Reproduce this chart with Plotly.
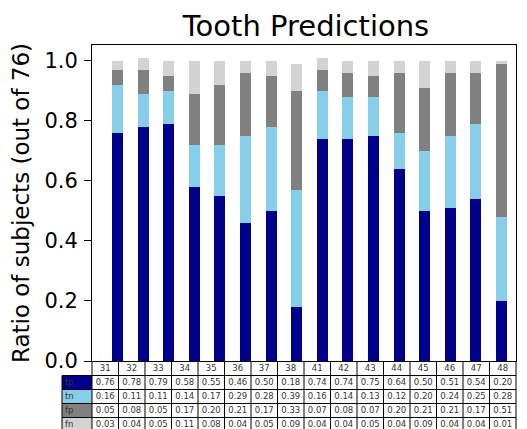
import plotly.graph_objects as go

teeth = ["31", "32", "33", "34", "35", "36", "37", "38",
         "41", "42", "43", "44", "45", "46", "47", "48"]
tp = [0.76, 0.78, 0.79, 0.58, 0.55, 0.46, 0.50, 0.18, 0.74, 0.74, 0.75, 0.64, 0.50, 0.51, 0.54, 0.20]
tn = [0.16, 0.11, 0.11, 0.14, 0.17, 0.29, 0.28, 0.39, 0.16, 0.14, 0.13, 0.12, 0.20, 0.24, 0.25, 0.28]
fp = [0.05, 0.08, 0.05, 0.17, 0.20, 0.21, 0.17, 0.33, 0.07, 0.08, 0.07, 0.20, 0.21, 0.21, 0.17, 0.51]
fn = [0.03, 0.04, 0.05, 0.11, 0.08, 0.04, 0.05, 0.09, 0.04, 0.04, 0.05, 0.04, 0.09, 0.04, 0.04, 0.01]
row_labels = ["tp", "tn", "fp", "fn"]
row_colors = ["#00008B", "#87CEEB", "#808080", "#D3D3D3"]

series = list(zip(row_labels, [tp, tn, fp, fn], row_colors))

W, H = 527, 429
ax_l, ax_r, ax_t, ax_b = 92, 516, 45, 361
colw = (ax_r - ax_l) / len(teeth)      # px per table column
labw = 30                               # px of row-label column
rowh = 14                               # px per table row
tab_top = 361.5

fig = go.Figure()
xs = list(range(len(teeth)))
for name, vals, col in series:
    fig.add_trace(go.Bar(x=xs, y=vals, name=name, marker=dict(color=col, line=dict(width=0)),
                         width=0.43, showlegend=False, hoverinfo="skip"))

# ---- table on its own axes (x in column units, y in row units) ----
ncol = len(teeth)
lab_edge = -labw / colw
x_edges = [lab_edge] + list(range(ncol + 1))
nrow = len(row_labels) + 1
y_edges = list(range(nrow + 1))
z = []
z.append([None] + [0] * ncol)
for r in range(len(row_labels)):
    z.append([r + 1] + [0] * ncol)
cs = []
cols = ["white"] + row_colors
n = len(cols)
for i, c in enumerate(cols):
    cs.append([i / n, c])
    cs.append([(i + 1) / n, c])
fig.add_trace(go.Heatmap(x=x_edges, y=y_edges, z=z, colorscale=cs, zmin=-0.5, zmax=n - 0.5,
                         showscale=False, hoverinfo="skip", xaxis="x2", yaxis="y2"))

# grid lines
gx, gy = [], []
gx += [0, ncol, None]; gy += [0, 0, None]
for r in range(1, nrow + 1):
    gx += [lab_edge, ncol, None]; gy += [r, r, None]
gx += [lab_edge, lab_edge, None]; gy += [1, nrow, None]
for c in range(ncol + 1):
    gx += [c, c, None]; gy += [0, nrow, None]
fig.add_trace(go.Scatter(x=gx, y=gy, mode="lines", line=dict(color="black", width=1),
                         showlegend=False, hoverinfo="skip", xaxis="x2", yaxis="y2"))

# texts
tfont = dict(family="DejaVu Sans", size=8.5, color="#333")
tx, ty, tt = [], [], []
for c, t in enumerate(teeth):
    tx.append(c + 0.5); ty.append(0.5); tt.append(t)
lx, ly, lt = [], [], []
for r, (name, vals, col) in enumerate(series):
    lx.append(lab_edge + 3 / colw); ly.append(r + 1.5); lt.append(name)
    for c, v in enumerate(vals):
        tx.append(c + 0.5); ty.append(r + 1.5); tt.append("%.2f" % v)
fig.add_trace(go.Scatter(x=tx, y=ty, text=tt, mode="text", textfont=tfont,
                         showlegend=False, hoverinfo="skip", xaxis="x2", yaxis="y2"))
fig.add_trace(go.Scatter(x=lx, y=ly, text=lt, mode="text", textposition="middle right",
                         textfont=tfont, showlegend=False, hoverinfo="skip",
                         xaxis="x2", yaxis="y2"))

px0, px1 = 61, 517
py0, py1 = 360, 429
x2_range = [(px0 - ax_l) / colw, (px1 - ax_l) / colw]
y2_range = [(py1 - tab_top) / rowh, (py0 - tab_top) / rowh]

fig.update_layout(
    width=W, height=H,
    margin=dict(l=0, r=0, t=0, b=0),
    paper_bgcolor="white", plot_bgcolor="rgba(0,0,0,0)",
    barmode="stack",
    font=dict(family="DejaVu Sans", color="black"),
    title=dict(text="Tooth Predictions", x=306 / W, xanchor="center",
               y=(H - 26) / H, yanchor="middle", font=dict(size=29, color="black")),
    xaxis=dict(domain=[ax_l / W, ax_r / W], range=[-1.0, 15.57], showticklabels=False,
               ticks="", showgrid=False, zeroline=False, showline=True, mirror=True,
               linecolor="black", linewidth=1, automargin=False, fixedrange=True),
    yaxis=dict(domain=[(H - ax_b) / H, (H - ax_t) / H], range=[0, 1.053],
               tickvals=[0, 0.2, 0.4, 0.6, 0.8, 1.0], tickformat=".1f",
               ticks="outside", ticklen=7, tickcolor="black", ticklabelstandoff=2,
               tickfont=dict(size=21), showgrid=False, zeroline=False, fixedrange=True,
               showline=True, mirror=True, linecolor="black", linewidth=1, automargin=False,
               title=dict(text="Ratio of subjects (out of 76)", font=dict(size=23), standoff=8)),
    xaxis2=dict(domain=[px0 / W, px1 / W], range=x2_range, visible=False, fixedrange=True,
                automargin=False),
    yaxis2=dict(domain=[(H - py1) / H, (H - py0) / H], range=y2_range, visible=False,
                fixedrange=True, automargin=False),
)

fig.write_html("out.html", config={"displayModeBar": False},
               post_script="document.body.style.margin='0';document.body.style.overflow='hidden';")
